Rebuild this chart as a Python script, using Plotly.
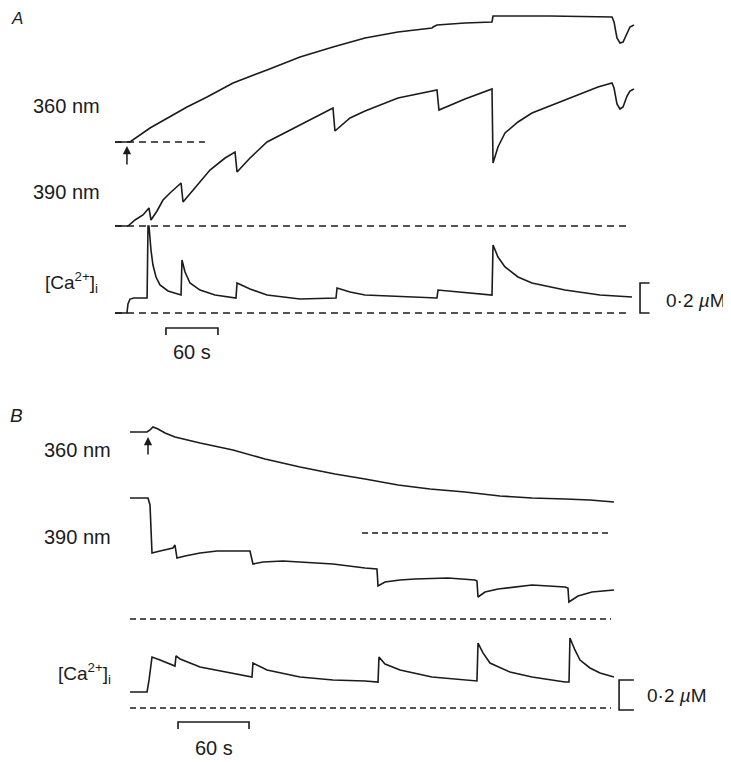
import plotly.graph_objects as go

# ---------------- DATA ----------------
# Panel A (time in s, fluorescence in a.u. above dashed reference, [Ca2+]i in uM)
a360_t = [0, 17.3, 40.4, 60.0, 83.1, 106.2, 136.2, 175.4, 213.5, 251.5, 288.5, 326.5, 365.8, 367.0,
          371.5, 403.8, 435.0, 436.2, 501.9, 573.5, 575.8, 579.2, 582.7, 586.2, 590.8, 594.2, 598.8]
a360_v = [0, 0, 14, 24, 35, 45, 59, 72, 85, 95, 104, 110, 114, 115,
          117, 119, 120, 126, 126, 125, 120, 104, 99, 100, 109, 115, 117]

a390_t = [0, 15.0, 23.1, 32.3, 39.2, 41.5, 48.5, 55.4, 63.5, 76.2, 78.5, 92.3, 109.6, 127.0, 138.5,
          140.8, 155.8, 175.4, 213.5, 251.5, 253.8, 271.2, 288.5, 326.5, 371.5, 373.8, 403.8, 435.0,
          436.2, 441.9, 450.0, 465.0, 481.1, 519.2, 557.3, 573.5, 575.8, 579.2, 582.7, 586.2, 590.8,
          594.2, 598.8]
a390_v = [0, 0, 6, 11, 18, 6, 15, 26, 33, 43, 24, 38, 56, 68, 74,
          54, 68, 84, 101, 118, 95, 108, 115, 128, 136, 116, 127, 137,
          63, 79, 93, 104, 113, 126, 139, 143, 138, 122, 117, 119, 130,
          135, 137]

aca_t = [0, 13.8, 15.0, 17.3, 21.9, 37.0, 38.1, 39.2, 41.5, 43.8, 47.3, 51.9, 61.2, 76.2, 77.3,
         80.8, 86.5, 98.1, 115.4, 139.6, 140.8, 155.8, 175.4, 213.5, 255.0, 256.2, 271.2, 288.5,
         371.5, 372.7, 435.0, 436.2, 441.9, 450.0, 465.0, 481.1, 519.2, 559.6, 596.5]
aca_v = [0, 0, 0.06, 0.093, 0.1, 0.1, 0.58, 0.58, 0.42, 0.32, 0.24, 0.187, 0.147, 0.12, 0.353,
         0.273, 0.2, 0.153, 0.12, 0.1, 0.2, 0.16, 0.12, 0.093, 0.1, 0.167, 0.14, 0.12,
         0.1, 0.153, 0.12, 0.453, 0.373, 0.307, 0.24, 0.2, 0.153, 0.12, 0.107]

# Panel B
b360_t = [0, 14.4, 16.9, 19.4, 23.7, 29.6, 38.0, 59.2, 87.0, 114.1, 143.7, 173.2, 198.6, 226.5,
          253.5, 283.1, 312.7, 339.7, 367.6, 388.7, 409.0]
b360_v = [101, 101, 103, 106, 104, 100, 96, 90, 83, 74, 66, 59, 54, 48,
          44, 41, 37, 35, 34, 33, 31]

b390_t = [0, 15.2, 16.9, 18.6, 25.4, 36.3, 38.0, 39.7, 46.5, 59.2, 73.5, 101.4, 103.9, 112.4,
          129.3, 171.6, 198.6, 208.7, 209.6, 215.5, 228.2, 240.8, 268.7, 291.5, 293.2, 294.1,
          300.0, 311.0, 339.7, 367.6, 370.1, 370.9, 378.6, 390.4, 409.0]
b390_v = [121, 121, 114, 66, 68, 71, 74, 61, 63, 66, 68, 68, 55, 57,
          58, 55, 51, 50, 33, 37, 39, 40, 41, 39, 38, 22,
          27, 30, 34, 32, 31, 17, 23, 27, 29]

bca_t = [0, 14.4, 16.1, 18.6, 25.4, 38.0, 38.9, 42.3, 59.2, 87.0, 103.1, 103.9, 115.8, 143.7,
         171.6, 198.6, 209.6, 210.4, 215.5, 228.2, 255.2, 293.2, 294.1, 298.3, 304.2, 321.1,
         339.7, 367.6, 371.0, 371.8, 376.0, 380.3, 388.7, 397.2, 409.0]
bca_v = [0.107, 0.107, 0.187, 0.34, 0.32, 0.28, 0.347, 0.327, 0.273, 0.233, 0.207, 0.3, 0.253, 0.207,
         0.187, 0.18, 0.173, 0.34, 0.293, 0.253, 0.207, 0.18, 0.433, 0.367, 0.3, 0.24,
         0.207, 0.173, 0.173, 0.467, 0.387, 0.32, 0.267, 0.233, 0.207]

# dashed reference levels (start, end time in s)
a360_ref_t = [0, 103.8]
a390_ref_t = [0, 594.2]
aca_ref_t = [0, 590.8]
b360_ref_t = [196.1, 407.3]
b390_ref_t = [0, 406.5]
bca_ref_t = [0, 406.5]

# stimulus arrows (time of application, s)
a_arrow_t = 13.8
b_arrow_t = 15.2

# scale bars
time_bar_s = 60
ca_bar_uM = 0.2
a_tbar_start = 58.8
b_tbar_start = 40.6
a_cabar_t = 605.8
b_cabar_t = 413.3
b_cabar_base = -0.013

labels = ["360 nm", "390 nm", "[Ca<sup>2+</sup>]<sub>i</sub>"]

# ---------------- LAYOUT CONSTANTS ----------------
W, H = 731, 762          # window size
OFF = 8                  # default page margin of the html body
FW, FH = W - OFF, H - OFF
INK = "#1b1b1b"
FONT = "Liberation Sans, Arial, Helvetica, sans-serif"

A_X0, A_K = 115, 52 / 60     # window px of t=0, px per s
B_X0, B_K = 130, 71 / 60


def xr(x0, k):
    return [(OFF - x0) / k, (W - x0) / k]


def yr(p0, s):
    return [(p0 - H) / s, (p0 - OFF) / s]


fig = go.Figure()


def line(x, y, xa, ya, width=1.6, dash=None):
    fig.add_trace(go.Scatter(x=x, y=y, mode="lines", xaxis=xa, yaxis=ya,
                             line=dict(color=INK, width=width, dash=dash),
                             hoverinfo="skip", showlegend=False))


# Panel A
line(a360_t, a360_v, "x", "y")
line(a390_t, a390_v, "x", "y2")
line(aca_t, aca_v, "x", "y3")
line(a360_ref_t, [0, 0], "x", "y", 1.4, "7px,5px")
line(a390_ref_t, [0, 0], "x", "y2", 1.4, "7px,5px")
line(aca_ref_t, [0, 0], "x", "y3", 1.4, "7px,5px")

# Panel B
line(b360_t, b360_v, "x2", "y4")
line(b390_t, b390_v, "x2", "y5")
line(bca_t, bca_v, "x2", "y6")
line(b360_ref_t, [0, 0], "x2", "y4", 1.4, "6px,4px")
line(b390_ref_t, [0, 0], "x2", "y5", 1.4, "6px,4px")
line(bca_ref_t, [0, 0], "x2", "y6", 1.4, "6px,4px")

# time scale bars (drawn on Ca axes)
line([a_tbar_start, a_tbar_start, a_tbar_start + time_bar_s, a_tbar_start + time_bar_s],
     [-0.147, -0.1, -0.1, -0.147], "x", "y3", 1.6)
line([b_tbar_start, b_tbar_start, b_tbar_start + time_bar_s, b_tbar_start + time_bar_s],
     [-0.14, -0.093, -0.093, -0.14], "x2", "y6", 1.6)

# concentration brackets
line([a_cabar_t + 11, a_cabar_t, a_cabar_t, a_cabar_t + 11],
     [ca_bar_uM, ca_bar_uM, 0, 0], "x", "y3", 1.6)
line([b_cabar_t + 12.5, b_cabar_t, b_cabar_t, b_cabar_t + 12.5],
     [b_cabar_base + ca_bar_uM, b_cabar_base + ca_bar_uM, b_cabar_base, b_cabar_base],
     "x2", "y6", 1.6)

hidden = dict(visible=False, showgrid=False, zeroline=False)
fig.update_layout(
    width=FW, height=FH, margin=dict(l=0, r=0, t=0, b=0),
    paper_bgcolor="white", plot_bgcolor="white",
    xaxis=dict(domain=[0, 1], range=xr(A_X0, A_K), anchor="y", **hidden),
    xaxis2=dict(domain=[0, 1], range=xr(B_X0, B_K), overlaying="x", anchor="y", **hidden),
    yaxis=dict(domain=[0, 1], range=yr(142, 1), anchor="x", **hidden),
    yaxis2=dict(range=yr(226, 1), overlaying="y", anchor="x", **hidden),
    yaxis3=dict(range=yr(313, 150), overlaying="y", anchor="x", **hidden),
    yaxis4=dict(range=yr(533, 1), overlaying="y", anchor="x", **hidden),
    yaxis5=dict(range=yr(619, 1), overlaying="y", anchor="x", **hidden),
    yaxis6=dict(range=yr(708, 150), overlaying="y", anchor="x", **hidden),
    font=dict(family=FONT, color=INK, size=20),
)

# arrows
fig.add_annotation(x=a_arrow_t, y=-4, xref="x", yref="y", ax=a_arrow_t, ay=-24,
                   axref="x", ayref="y", text="", showarrow=True, arrowhead=2,
                   arrowsize=1.1, arrowwidth=1.5, arrowcolor=INK)
fig.add_annotation(x=b_arrow_t, y=96, xref="x2", yref="y4", ax=b_arrow_t, ay=77,
                   axref="x2", ayref="y4", text="", showarrow=True, arrowhead=2,
                   arrowsize=1.1, arrowwidth=1.5, arrowcolor=INK)


def txt(s, px, py, anchor="left", size=20, italic=False):
    fig.add_annotation(x=(px - OFF) / FW, y=1 - (py - OFF) / FH, xref="paper", yref="paper",
                       text=s, showarrow=False, xanchor=anchor, yanchor="middle",
                       font=dict(size=size, family=FONT, color=INK,
                                 style="italic" if italic else "normal"))


txt("A", 17, 18, "center", size=17, italic=True)
txt("B", 16, 415, "center", size=19, italic=True)
txt(labels[0], 102, 106, "right")
txt(labels[1], 102, 192, "right")
txt(labels[2], 100, 282, "right", size=19)
txt(labels[0], 113, 450, "right")
txt(labels[1], 113, 537, "right")
txt(labels[2], 113, 673, "right", size=19)
txt("60 s", 192, 352, "center")
txt("60 s", 214, 748, "center")
txt("0·2 <i>µ</i>M", 664, 300, "left", size=19)
txt("0·2 <i>µ</i>M", 645, 695, "left", size=19)

fig.write_html("out.html")
